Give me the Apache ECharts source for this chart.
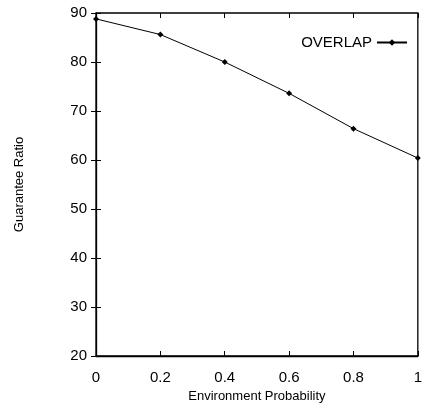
<!DOCTYPE html>
<html>
<head>
<meta charset="utf-8">
<script src="https://cdn.jsdelivr.net/npm/echarts@6/dist/echarts.min.js"></script>
<style>
  html, body { margin: 0; padding: 0; background: #fff; }
  #chart { width: 425px; height: 409px; }
</style>
</head>
<body>
<div id="chart"></div>
<script>
var xValues = [0, 0.2, 0.4, 0.6, 0.8, 1];
var overlap = [88.8, 85.6, 80.0, 73.6, 66.4, 60.4];
var seriesName = "OVERLAP";

var font = "'Liberation Sans', Arial, sans-serif";

var chart = echarts.init(document.getElementById("chart"));

function mirrorAxis(pos) {
    return {
        type: 'value',
        position: pos,
        min: pos === 'top' ? 0 : 20,
        max: pos === 'top' ? 1 : 90,
        interval: pos === 'top' ? 0.2 : 10,
        axisLine: { show: false },
        axisTick: { show: true, inside: true, length: 5, lineStyle: { color: '#000' } },
        axisLabel: { show: false },
        splitLine: { show: false }
    };
}

chart.setOption({
    animation: false,
    grid: {
        left: 96, right: 1, top: 13, bottom: 53,
        show: true, borderColor: '#000', borderWidth: 1.3, backgroundColor: 'transparent'
    },
    legend: {
        right: 12, top: 30,
        align: 'right',
        itemWidth: 30, itemHeight: 8,
        itemGap: 6,
        textStyle: { fontFamily: font, fontSize: 15, color: '#000' },
        data: [seriesName]
    },
    xAxis: [{
        type: 'value',
        min: 0, max: 1, interval: 0.2,
        name: 'Environment Probability',
        nameLocation: 'middle',
        nameGap: 34,
        nameTextStyle: { fontFamily: font, fontSize: 13, color: '#000' },
        axisLine: { show: true, lineStyle: { color: '#000', width: 1.3 } },
        axisTick: { show: true, inside: true, length: 5, lineStyle: { color: '#000' } },
        axisLabel: { fontFamily: font, fontSize: 15, color: '#000', margin: 14 },
        splitLine: { show: false }
    }, mirrorAxis('top')],
    yAxis: [{
        type: 'value',
        min: 20, max: 90, interval: 10,
        name: 'Guarantee Ratio',
        nameLocation: 'middle',
        nameGap: 70,
        nameTextStyle: { fontFamily: font, fontSize: 13, color: '#000' },
        axisLine: { show: true, lineStyle: { color: '#000', width: 1.3 } },
        axisTick: { show: true, inside: true, length: 5, lineStyle: { color: '#000' } },
        axisLabel: { fontFamily: font, fontSize: 15, color: '#000', margin: 9 },
        splitLine: { show: false }
    }, mirrorAxis('right')],
    series: [{
        name: seriesName,
        type: 'line',
        data: xValues.map(function(x, i) { return [x, overlap[i]]; }),
        symbol: 'diamond',
        symbolSize: 6,
        showAllSymbol: true,
        lineStyle: { color: '#000', width: 1 },
        itemStyle: { color: '#000' }
    }]
});
</script>
</body>
</html>
